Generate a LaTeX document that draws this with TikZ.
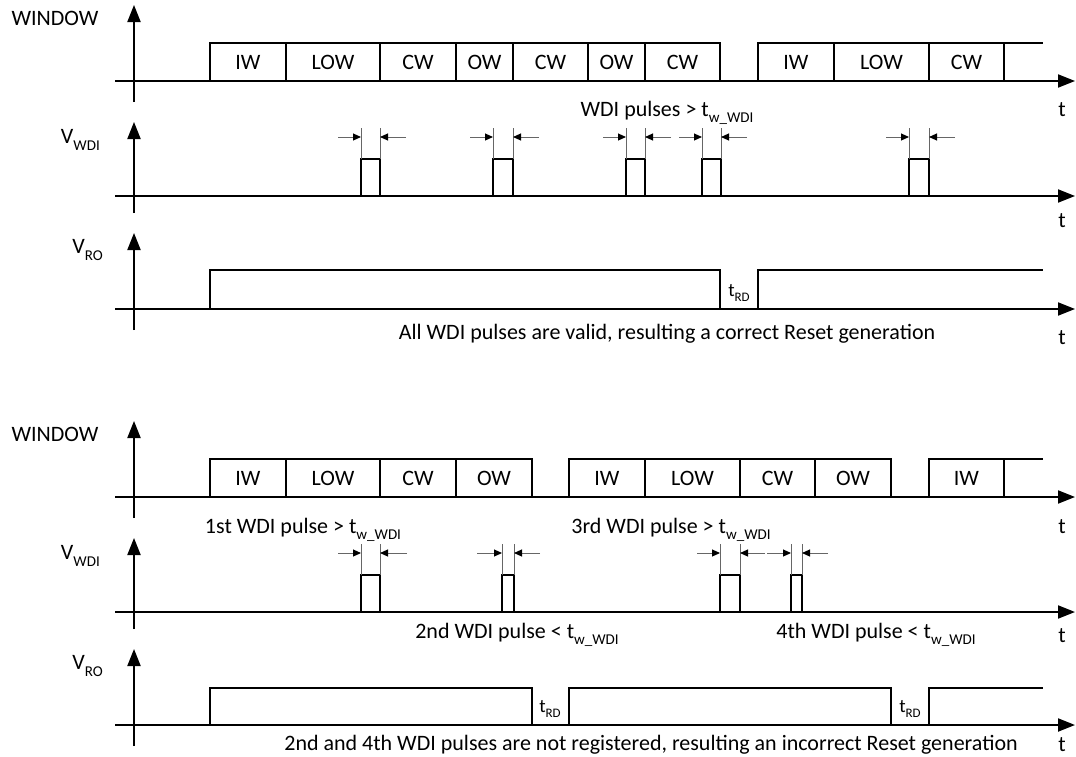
\documentclass[tikz,border=0pt]{standalone}
\usepackage{fontspec}
\setmainfont{Carlito}
\usetikzlibrary{arrows.meta}
\newcommand\mysub[1]{\raisebox{-0.28em}{\fontsize{15}{15}\selectfont #1}}
\newcommand\tww{t\mysub{w\_WDI}}
\newcommand\trd{t\raisebox{-0.25em}{\fontsize{13}{13}\selectfont RD}}
\begin{document}
\begin{tikzpicture}[x=1pt,y=-1pt,
  lbl/.style={font=\fontsize{22}{26}\selectfont, inner sep=0pt},
  trd/.style={font=\fontsize{19}{22}\selectfont, inner sep=0pt},
  axisline/.style={line width=2pt,-{Triangle[length=17pt,width=13pt]}},
  wave/.style={line width=2.2pt, line join=miter},
  divider/.style={line width=2pt},
  extline/.style={line width=1pt, black!60},
  dimarrow/.style={line width=1pt, black!60, -{Triangle[length=8pt,width=7pt,black]}},
]
\useasboundingbox (0,0) rectangle (1076,756);

% ---------- axes and axis labels (both panels) ----------
\foreach \o/\n in {0/a,416/b}{
  \begin{scope}[yshift=-\o pt]
    \coordinate (wvb\n) at (134,102); \coordinate (wvt\n) at (134,5);
    \coordinate (whl\n) at (115,81);  \coordinate (whr\n) at (1075,81);
    \coordinate (dvb\n) at (134,213); \coordinate (dvt\n) at (134,122);
    \coordinate (dhl\n) at (115,196); \coordinate (dhr\n) at (1075,196);
    \coordinate (rvb\n) at (134,330); \coordinate (rvt\n) at (134,233);
    \coordinate (rhl\n) at (115,309); \coordinate (rhr\n) at (1075,309);
    \draw[axisline] (wvb\n) -- (wvt\n);
    \draw[axisline] (whl\n) -- (whr\n);
    \draw[axisline] (dvb\n) -- (dvt\n);
    \draw[axisline] (dhl\n) -- (dhr\n);
    \draw[axisline] (rvb\n) -- (rvt\n);
    \draw[axisline] (rhl\n) -- (rhr\n);
    \node[lbl] (win\n) at (55,18) {WINDOW};
    \node[lbl,anchor=east] (vwdi\n) at (100,140) {V\mysub{WDI}};
    \node[lbl,anchor=east] (vro\n) at (103,250) {V\mysub{RO}};
  \end{scope}
}
\node[lbl] (t1) at (1062,110) {t};
\node[lbl] (t2) at (1062,221) {t};
\node[lbl] (t3) at (1062,338) {t};
\node[lbl] (t4) at (1062,527) {t};
\node[lbl] (t5) at (1062,636) {t};
\node[lbl] (t6) at (1062,745) {t};

% ---------- TOP PANEL ----------
\draw[wave] (210,81) -- (210,43) -- (720,43) -- (720,81);
\draw[wave] (758,81) -- (758,43) -- (1043,43);
\foreach \x in {286,380,456,513,588,645,834,929,1004}
  \draw[divider] (\x,43) -- (\x,81);
\foreach \x/\t/\k in {248/IW/1,333/LOW/2,418/CW/3,484.5/OW/4,550.5/CW/5,616.5/OW/6,682.5/CW/7,796/IW/8,881.5/LOW/9,966.5/CW/10}
  \node[lbl] (tw\k) at (\x,62) {\t};

\foreach \l/\r/\k in {361/380/1,493/513/2,626/645/3,702/721/4,909/929/5}{
  \draw[wave] (\l,196) -- (\l,159) -- (\r,159) -- (\r,196);
  \coordinate (pl\k) at (\l,137); \coordinate (pr\k) at (\r,137);
  \coordinate (pls\k) at (\l-23,137); \coordinate (pre\k) at (\r+26,137);
  \draw[extline] (\l,159) -- (\l,128);
  \draw[extline] (\r,159) -- (\r,128);
  \draw[dimarrow] (pls\k) -- (pl\k);
  \draw[dimarrow] (pre\k) -- (pr\k);
}
\node[lbl] (wdiok) at (667,113) {WDI pulses > \tww};

\draw[wave] (210,309) -- (210,270) -- (720,270) -- (720,309);
\draw[wave] (758,309) -- (758,270) -- (1043,270);
\node[trd] (trd1) at (739,293) {\trd};
\node[lbl] (res1) at (667,334) {All WDI pulses are valid, resulting a correct Reset generation};

% ---------- BOTTOM PANEL ----------
\draw[wave] (210,497) -- (210,459) -- (532,459) -- (532,497);
\draw[wave] (569,497) -- (569,459) -- (891,459) -- (891,497);
\draw[wave] (929,497) -- (929,459) -- (1043,459);
\foreach \x in {286,380,456,645,740,815,1004}
  \draw[divider] (\x,459) -- (\x,497);
\foreach \x/\t/\k in {248/IW/1,333/LOW/2,418/CW/3,494/OW/4,607/IW/5,692.5/LOW/6,777.5/CW/7,853/OW/8,966.5/IW/9}
  \node[lbl] (bw\k) at (\x,478) {\t};

\foreach \l/\r/\ls/\re/\k in {361/380/338/407/1,502/514/477/540/2,720/740/697/765/3,791/802/767/828/4}{
  \draw[wave] (\l,612) -- (\l,575) -- (\r,575) -- (\r,612);
  \coordinate (ql\k) at (\l,553); \coordinate (qr\k) at (\r,553);
  \coordinate (qls\k) at (\ls,553); \coordinate (qre\k) at (\re,553);
  \draw[extline] (\l,575) -- (\l,544);
  \draw[extline] (\r,575) -- (\r,544);
  \draw[dimarrow] (qls\k) -- (ql\k);
  \draw[dimarrow] (qre\k) -- (qr\k);
}
\node[lbl] (p1) at (303,530) {1st WDI pulse > \tww};
\node[lbl] (p3) at (671,530) {3rd WDI pulse > \tww};
\node[lbl] (p2) at (517,635) {2nd WDI pulse < \tww};
\node[lbl] (p4) at (876,635) {4th WDI pulse < \tww};

\draw[wave] (210,725) -- (210,688) -- (532,688) -- (532,725);
\draw[wave] (569,725) -- (569,688) -- (891,688) -- (891,725);
\draw[wave] (929,725) -- (929,688) -- (1043,688);
\node[trd] (trd2) at (550,709) {\trd};
\node[trd] (trd3) at (910,709) {\trd};
\node[lbl] (res2) at (651,745) {2nd and 4th WDI pulses are not registered, resulting an incorrect Reset generation};
\end{tikzpicture}
\end{document}
